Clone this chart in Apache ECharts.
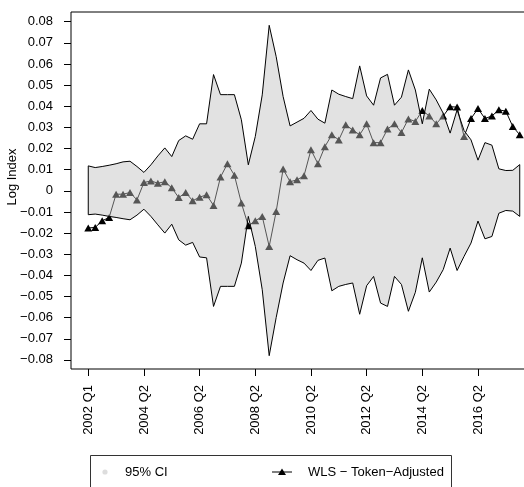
<!DOCTYPE html>
<html>
<head>
<meta charset="utf-8">
<script src="https://cdn.jsdelivr.net/npm/echarts@6/dist/echarts.min.js"></script>
<style>html,body{margin:0;padding:0;background:#fff;}#c{width:524px;height:487px;}</style>
</head>
<body>
<div id="c"></div>
<script>
// Quarter index positions of the ticks and their labels
const tickPositions = [0, 8, 16, 24, 32, 40, 48, 56];
const tickLabels = ['2002 Q1', '2004 Q2', '2006 Q2', '2008 Q2', '2010 Q2', '2012 Q2', '2014 Q2', '2016 Q2'];
const yTicks = [-0.08, -0.07, -0.06, -0.05, -0.04, -0.03, -0.02, -0.01, 0, 0.01, 0.02, 0.03, 0.04, 0.05, 0.06, 0.07, 0.08];

// 95% CI band (upper and lower bounds), one value per quarter
const ciUpper = [0.0118,0.0110,0.0115,0.0121,0.0128,0.0137,0.0140,0.0115,0.0087,0.0123,
  0.0165,0.0203,0.0162,0.0238,0.0260,0.0244,0.0317,0.0317,0.0550,0.0455,
  0.0455,0.0455,0.0336,0.0123,0.0257,0.0454,0.0783,0.0635,0.0446,0.0307,
  0.0325,0.0343,0.0380,0.0339,0.0320,0.0477,0.0457,0.0446,0.0436,0.0591,
  0.0449,0.0405,0.0534,0.0551,0.0405,0.0443,0.0572,0.0477,0.0317,0.0481,
  0.0430,0.0367,0.0273,0.0383,0.0285,0.0241,0.0145,0.0228,0.0216,0.0104,
  0.0096,0.0097,0.0124];
const ciLower = [-0.0113,-0.0110,-0.0115,-0.0121,-0.0126,-0.0132,-0.0137,-0.0115,-0.0087,-0.0121,
  -0.0161,-0.0200,-0.0158,-0.0232,-0.0257,-0.0244,-0.0313,-0.0317,-0.0547,-0.0452,
  -0.0452,-0.0452,-0.0342,-0.0121,-0.0263,-0.0468,-0.0780,-0.0600,-0.0436,-0.0307,
  -0.0326,-0.0342,-0.0377,-0.0329,-0.0318,-0.0473,-0.0452,-0.0443,-0.0436,-0.0584,
  -0.0449,-0.0405,-0.0531,-0.0547,-0.0405,-0.0443,-0.0570,-0.0480,-0.0317,-0.0479,
  -0.0432,-0.0373,-0.0271,-0.0377,-0.0310,-0.0247,-0.0143,-0.0227,-0.0216,-0.0106,
  -0.0093,-0.0096,-0.0121];
// WLS - Token-Adjusted log index
const wlsValues = [-0.0176,-0.0173,-0.0142,-0.0126,-0.0016,-0.0016,-0.0008,-0.0043,0.0039,0.0047,
  0.0036,0.0043,0.0014,-0.0032,-0.0008,-0.0047,-0.0030,-0.0019,-0.0069,0.0065,
  0.0128,0.0074,-0.0058,-0.0165,-0.0142,-0.0121,-0.0263,-0.0098,0.0103,0.0043,
  0.0052,0.0071,0.0194,0.0128,0.0209,0.0265,0.0241,0.0312,0.0288,0.0265,
  0.0317,0.0228,0.0228,0.0292,0.0317,0.0276,0.0340,0.0328,0.0380,0.0354,
  0.0317,0.0354,0.0398,0.0396,0.0257,0.0342,0.0389,0.0342,0.0354,0.0383,
  0.0377,0.0304,0.0265];

const FONT = '"Liberation Sans", Arial, Helvetica, sans-serif';
const labelOf = {};
tickPositions.forEach((p, k) => { labelOf[p] = tickLabels[k]; });

const chart = echarts.init(document.getElementById('c'), null, {renderer: 'canvas'});
const option = {
  animation: false,
  backgroundColor: '#fff',
  grid: {
    left: 71, top: 12, right: -13, bottom: 118,
    show: true, borderColor: '#000', borderWidth: 1, backgroundColor: 'transparent',
    containLabel: false, outerBoundsMode: 'none'
  },
  xAxis: {
    type: 'value', min: -2.48, max: 64.48, position: 'bottom',
    splitLine: {show: false},
    axisLine: {show: false, onZero: false},
    axisTick: {show: true, inside: false, length: 7, lineStyle: {color: '#000', width: 1}, customValues: tickPositions},
    axisLabel: {
      show: true, customValues: tickPositions, rotate: 90, margin: 16,
      fontFamily: FONT, fontSize: 13, color: '#000',
      formatter: v => labelOf[Math.round(v)] || ''
    }
  },
  yAxis: {
    type: 'value', min: -0.0843, max: 0.0846, position: 'left',
    splitLine: {show: false},
    axisLine: {show: false, onZero: false},
    axisTick: {show: true, inside: false, length: 7, lineStyle: {color: '#000', width: 1}, customValues: yTicks},
    axisLabel: {
      show: true, customValues: yTicks, margin: 18,
      fontFamily: FONT, fontSize: 13, color: '#000',
      formatter: v => {
        const r = Math.round(v * 100) / 100;
        if (Math.abs(r) < 1e-9) return '0';
        return (r < 0 ? '\u2212' : '') + Math.abs(r).toFixed(2);
      }
    }
  },
  series: [
    {
      name: 'WLS \u2212 Token\u2212Adjusted',
      type: 'line',
      z: 2,
      data: wlsValues.map((v, i) => [i, v]),
      symbol: 'triangle',
      symbolSize: [8, 7],
      showSymbol: true,
      lineStyle: {color: '#000', width: 1},
      itemStyle: {color: '#000', borderWidth: 0},
      emphasis: {disabled: true}
    },
    {
      name: '95% CI',
      type: 'custom',
      z: 5,
      data: [[0, ciLower[0], ciUpper[0]]],
      renderItem: function (params, api) {
        const pts = [];
        for (let i = 0; i < ciUpper.length; i++) pts.push(api.coord([i, ciUpper[i]]));
        for (let i = ciLower.length - 1; i >= 0; i--) pts.push(api.coord([i, ciLower[i]]));
        return {
          type: 'polygon',
          shape: {points: pts},
          style: {fill: 'rgba(190,190,190,0.45)', stroke: '#000', lineWidth: 1}
        };
      },
      silent: true
    }
  ],
  graphic: [
    {
      type: 'text', x: 12, y: 177, rotation: Math.PI / 2,
      style: {text: 'Log Index', fontFamily: FONT, fontSize: 13, fill: '#000', align: 'center', verticalAlign: 'middle'}
    },
    {
      type: 'group', children: [
        {type: 'rect', shape: {x: 90.5, y: 455.5, width: 361, height: 60}, style: {fill: 'none', stroke: '#333', lineWidth: 1}},
        {type: 'circle', shape: {cx: 105, cy: 472, r: 2.6}, style: {fill: '#dddddd'}},
        {type: 'text', x: 125, y: 472, style: {text: '95% CI', fontFamily: FONT, fontSize: 13, fill: '#000', verticalAlign: 'middle'}},
        {type: 'line', shape: {x1: 272, y1: 472, x2: 292, y2: 472}, style: {stroke: '#000', lineWidth: 1}},
        {type: 'polygon', shape: {points: [[282, 468.5], [286, 475], [278, 475]]}, style: {fill: '#000'}},
        {type: 'text', x: 308, y: 472, style: {text: 'WLS \u2212 Token\u2212Adjusted', fontFamily: FONT, fontSize: 13, fill: '#000', verticalAlign: 'middle'}}
      ]
    }
  ]
};
chart.setOption(option);
</script>
</body>
</html>
